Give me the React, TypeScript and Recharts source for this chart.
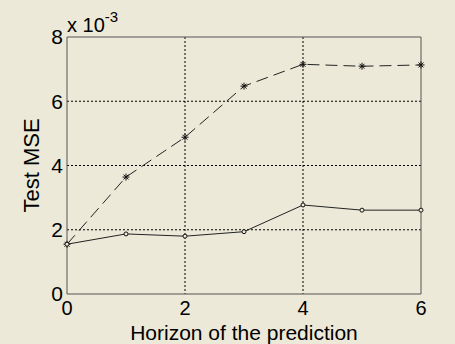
import React from 'react';
import {
    LineChart,
    Line,
    XAxis,
    YAxis,
    CartesianGrid,
    ReferenceLine
} from 'recharts';

// horizon steps
const horizons = [0, 1, 2, 3, 4, 5, 6];
// test MSE, dashed series with '*' markers
const mseDashed = [0.00155, 0.00364, 0.00488, 0.00647, 0.00715, 0.00709, 0.00713];
// test MSE, solid series with 'o' markers
const mseSolid = [0.00155, 0.00187, 0.0018, 0.00194, 0.00277, 0.00261, 0.00261];
const xTicks = [0, 2, 4, 6];
const yTicks = [0, 0.002, 0.004, 0.006, 0.008];

const data = horizons.map((h, i) => ({ h, dashed: mseDashed[i], solid: mseSolid[i] }));

const BG = '#ECE9D8';
const INK = '#222';
const FONT = '"Liberation Sans", Arial, sans-serif';

const Star = (props: any) => {
    const { cx, cy } = props;
    if (cx == null || cy == null) return null;
    const r = 3.5;
    const d = r * 0.7;
    return (
        <g stroke="#111" strokeWidth={1}>
            <line x1={cx - r} y1={cy} x2={cx + r} y2={cy} />
            <line x1={cx} y1={cy - r} x2={cx} y2={cy + r} />
            <line x1={cx - d} y1={cy - d} x2={cx + d} y2={cy + d} />
            <line x1={cx - d} y1={cy + d} x2={cx + d} y2={cy - d} />
        </g>
    );
};

const App: React.FC = () => {
    return (
        <div style={{ position: 'absolute', left: 0, top: 0, width: 455, height: 344, background: BG, fontFamily: FONT }}>
            <LineChart
                width={455}
                height={344}
                data={data}
                margin={{ top: 37, right: 34, left: 0, bottom: 0 }}
            >
                <CartesianGrid
                    stroke="#000"
                    strokeDasharray="2 2"
                    horizontalValues={[0.002, 0.004, 0.006]}
                    verticalValues={[2, 4]}
                />
                <XAxis
                    dataKey="h"
                    type="number"
                    domain={[0, 6]}
                    ticks={xTicks}
                    height={50}
                    axisLine={{ stroke: '#555' }}
                    tickLine={false}
                    tickSize={6}
                    tickMargin={1}
                    tick={{ fill: '#000', fontSize: 20, fontFamily: FONT }}
                    label={{ value: 'Horizon of the prediction', position: 'insideBottom', offset: 4, fill: '#000', fontSize: 21, fontFamily: FONT }}
                />
                <YAxis
                    type="number"
                    domain={[0, 0.008]}
                    ticks={yTicks}
                    width={67}
                    axisLine={{ stroke: '#555' }}
                    tickLine={false}
                    tickSize={4}
                    tickMargin={0}
                    tickFormatter={(v: number) => String(Math.round(v * 1000))}
                    tick={{ fill: '#000', fontSize: 21, fontFamily: FONT }}
                    label={{ value: 'Test MSE', angle: -90, position: 'center', dx: -2, fill: '#000', fontSize: 22, fontFamily: FONT }}
                />
                <ReferenceLine y={0.008} stroke="#555" />
                <ReferenceLine x={6} stroke="#555" />
                <Line
                    type="linear"
                    dataKey="dashed"
                    stroke={INK}
                    strokeWidth={1}
                    strokeDasharray="12 6"
                    dot={<Star />}
                    activeDot={false}
                    isAnimationActive={false}
                />
                <Line
                    type="linear"
                    dataKey="solid"
                    stroke={INK}
                    strokeWidth={1}
                    dot={{ r: 2, stroke: '#111', strokeWidth: 1, fill: BG }}
                    activeDot={false}
                    isAnimationActive={false}
                />
            </LineChart>
            <div style={{ position: 'absolute', left: 67, top: 15, fontSize: 20, color: '#000', whiteSpace: 'nowrap', lineHeight: 1 }}>
                x 10<span style={{ position: 'relative', top: -10, fontSize: 15 }}>-3</span>
            </div>
        </div>
    );
};

export default App;
